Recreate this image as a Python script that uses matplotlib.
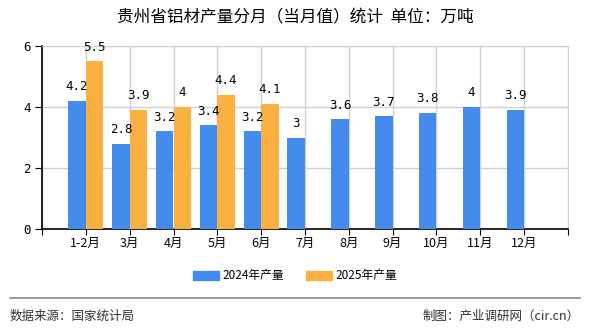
import numpy as np
import matplotlib.pyplot as plt
from matplotlib.patches import Patch

plt.rcParams['font.family'] = ['Noto Sans CJK SC', 'DejaVu Sans']

months = ['1-2月', '3月', '4月', '5月', '6月', '7月', '8月', '9月', '10月', '11月', '12月']
prod_2024 = [4.2, 2.8, 3.2, 3.4, 3.2, 3, 3.6, 3.7, 3.8, 4, 3.9]
prod_2025 = [5.5, 3.9, 4, 4.4, 4.1]
yticks = [0, 2, 4, 6]

c_blue = '#438BEC'
c_orange = '#FBB142'

fig = plt.figure(figsize=(5.9, 3.3), dpi=100)
ax = fig.add_axes([42 / 590, 1 - 229 / 330, 526 / 590, 183 / 330])

w = 0.4
x24 = np.arange(len(prod_2024))
x25 = np.arange(len(prod_2025))
ax.bar(x24 - w / 2, prod_2024, width=w, color=c_blue, zorder=3)
ax.bar(x25 + w / 2, prod_2025, width=w, color=c_orange, zorder=3)

def fmt(v):
    return f'{v:g}'

for x, v in zip(x24, prod_2024):
    ax.text(x - w / 2, v + 0.25, fmt(v), ha='center', va='bottom',
            fontsize=9, family='DejaVu Sans Mono', zorder=4)
for x, v in zip(x25, prod_2025):
    ax.text(x + w / 2, v + 0.25, fmt(v), ha='center', va='bottom',
            fontsize=9, family='DejaVu Sans Mono', zorder=4)

ax.set_xlim(-1, len(months))
ax.set_ylim(0, 6)
ax.set_yticks(yticks)
ax.set_yticklabels([str(t) for t in yticks], fontsize=9, family='DejaVu Sans Mono')

ax.set_xticks(np.arange(-1, len(months) + 1))
ax.set_xticklabels([''] + months + [''], fontsize=9)
ax.tick_params(axis='x', length=4, pad=2, color='black')
ax.tick_params(axis='y', length=5, pad=3, color='black')

ax.grid(True, color='#d0d0d0', linewidth=1, zorder=0)
for s in ['top', 'right']:
    ax.spines[s].set_color('#d0d0d0')
for s in ['left', 'bottom']:
    ax.spines[s].set_color('black')
    ax.spines[s].set_linewidth(1.2)

fig.text(0.5, 1 - 18 / 330, '贵州省铝材产量分月（当月值）统计  单位：万吨',
         ha='center', va='center', fontsize=12)

handles = [Patch(color=c_blue, label='2024年产量'), Patch(color=c_orange, label='2025年产量')]
fig.legend(handles=handles, loc='center', bbox_to_anchor=(0.5, 1 - 276 / 330),
           ncol=2, frameon=False, fontsize=8.5, handlelength=2.2, handleheight=0.8,
           columnspacing=1.8, handletextpad=0.3)

fig.add_artist(plt.Line2D([10 / 590, 580 / 590], [1 - 298 / 330] * 2,
                          color='#888888', linewidth=1.2))
fig.text(10 / 590, 1 - 316 / 330, '数据来源：国家统计局', ha='left', va='center',
         fontsize=9, color='#333333')
fig.text(580 / 590, 1 - 316 / 330, '制图：产业调研网（cir.cn）', ha='right', va='center',
         fontsize=9, color='#333333')

fig.savefig('out.png', dpi=100)
